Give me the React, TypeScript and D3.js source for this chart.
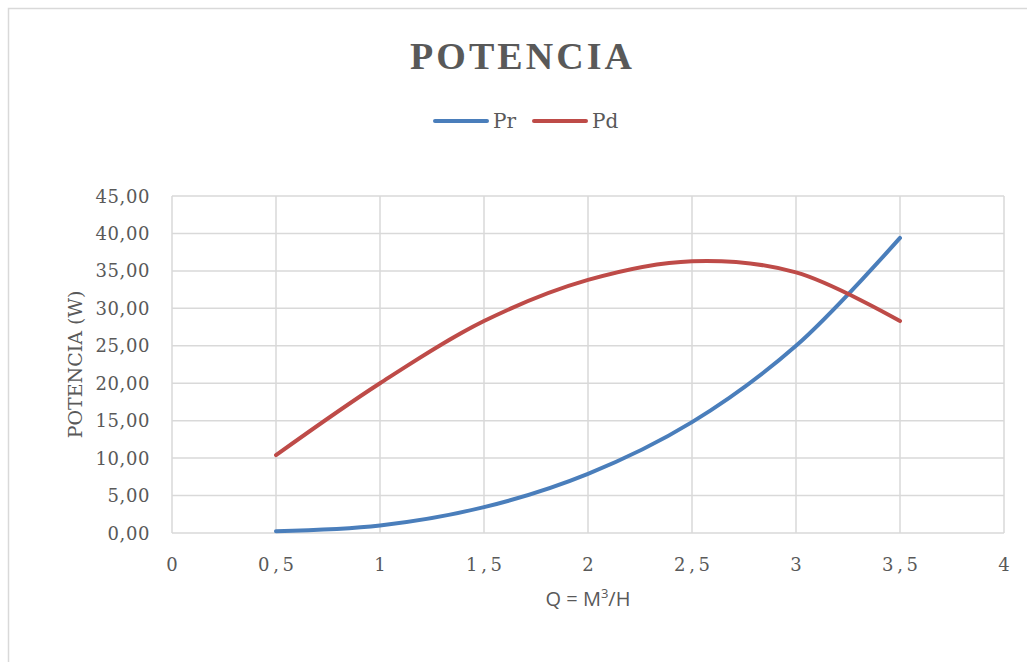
import React from "react";
import * as d3 from "d3";

const flows = [0.5, 1, 1.5, 2, 2.5, 3, 3.5];
const prValues = [0.25, 1.0, 3.45, 7.9, 14.8, 25.0, 39.4];
const pdValues = [10.4, 20.0, 28.3, 33.8, 36.3, 34.8, 28.3];
const yTicks = [0, 5, 10, 15, 20, 25, 30, 35, 40, 45];
const xTicks = [0, 0.5, 1, 1.5, 2, 2.5, 3, 3.5, 4];
const seriesNames = ["Pr", "Pd"];
const seriesColors = ["#4a7ebb", "#be4b48"];

const W = 1027;
const H = 662;
const serif = "'DejaVu Serif', serif";

export default function App() {
  const x = d3.scaleLinear().domain([0, 4]).range([172, 1004]);
  const y = d3.scaleLinear().domain([0, 45]).range([533, 196]);
  const line = d3
    .line<[number, number]>()
    .x((d) => x(d[0]))
    .y((d) => y(d[1]))
    .curve(d3.curveCatmullRom.alpha(0.5));
  const series = [prValues, pdValues];
  const fmtY = (v: number) => v.toFixed(2).replace(".", ",");
  const fmtX = (v: number) => String(v).replace(".", "\u2009,\u2009");

  return (
    <svg
      width={W}
      height={H}
      style={{ position: "absolute", left: 0, top: 0, background: "#fff" }}
    >
      <rect x={8.5} y={8.5} width={W + 20} height={H + 20} fill="#fff" stroke="#d9d9d9" strokeWidth={1.5} />
      {/* Title */}
      <text
        x={521}
        y={69}
        textAnchor="middle"
        fontFamily="'Liberation Serif', serif"
        fontWeight="bold"
        fontSize={38}
        fill="#595959"
        textLength={222}
        lengthAdjust="spacing"
      >
        POTENCIA
      </text>
      {/* Legend */}
      {seriesNames.map((n, i) => {
        const lx = 435 + i * 99;
        return (
          <g key={n}>
            <line x1={lx} x2={lx + 52} y1={121} y2={121} stroke={seriesColors[i]} strokeWidth={4} strokeLinecap="round" />
            <text x={lx + 58} y={128} fontFamily={serif} fontSize={20} fill="#595959">
              {n}
            </text>
          </g>
        );
      })}
      {/* Grid */}
      {yTicks.map((t) => (
        <line key={"h" + t} x1={x(0)} x2={x(4)} y1={y(t)} y2={y(t)} stroke="#d9d9d9" strokeWidth={1.5} />
      ))}
      {xTicks.map((t) => (
        <line key={"v" + t} x1={x(t)} x2={x(t)} y1={y(0)} y2={y(45)} stroke="#d9d9d9" strokeWidth={1.5} />
      ))}
      {/* Y tick labels */}
      {yTicks.map((t) => (
        <text
          key={"yl" + t}
          x={150}
          y={y(t) + 6.5}
          textAnchor="end"
          fontFamily={serif}
          fontSize={18}
          fill="#595959"
          letterSpacing={0.6}
        >
          {fmtY(t)}
        </text>
      ))}
      {/* X tick labels */}
      {xTicks.map((t) => (
        <text
          key={"xl" + t}
          x={x(t)}
          y={571}
          textAnchor="middle"
          fontFamily={serif}
          fontSize={18}
          fill="#595959"
          style={{ whiteSpace: "pre" }}
        >
          {fmtX(t)}
        </text>
      ))}
      {/* Axis titles */}
      <text x={588} y={606} textAnchor="middle" fontFamily="'Open Sans', sans-serif" fontSize={20} fill="#595959">
        Q = M<tspan dy={-8} fontSize={13}>3</tspan>
        <tspan dy={8}>/H</tspan>
      </text>
      <text
        transform={`translate(82,${y(22.5)}) rotate(-90)`}
        textAnchor="middle"
        fontFamily={serif}
        fontSize={19}
        fill="#595959"
      >
        POTENCIA (W)
      </text>
      {/* Series */}
      {series.map((vals, i) => (
        <path
          key={"s" + i}
          d={line(flows.map((f, j) => [f, vals[j]] as [number, number])) || ""}
          fill="none"
          stroke={seriesColors[i]}
          strokeWidth={4}
          strokeLinecap="round"
          strokeLinejoin="round"
        />
      ))}
    </svg>
  );
}
